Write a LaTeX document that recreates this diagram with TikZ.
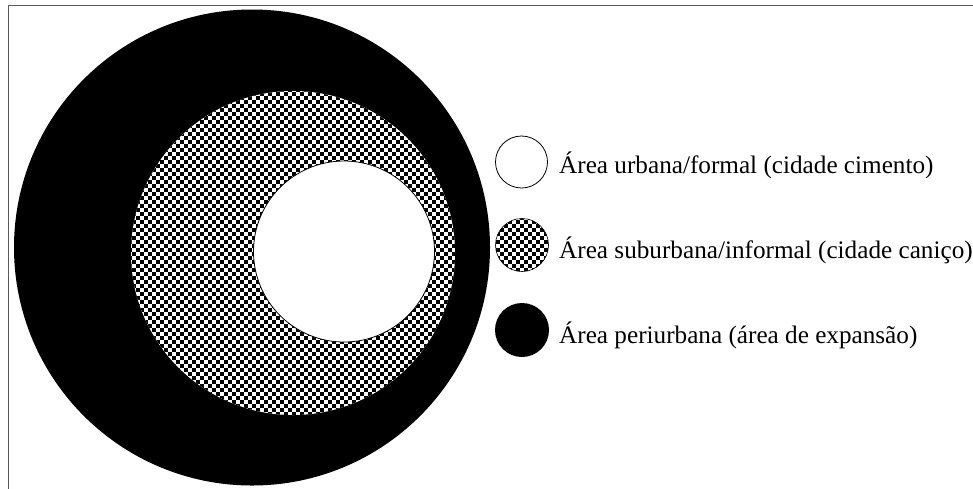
\documentclass[tikz,border=0pt]{standalone}
\usepackage{fontspec}
\setmainfont{Liberation Serif}

% checkerboard of 4pt squares on a fixed global grid, covering the
% square box round a disc of centre (#1,#2) and radius #3
\newcommand\checkerfill[3]{%
  \pgfmathtruncatemacro\cjA{floor((#2-#3)/4)-1}%
  \pgfmathtruncatemacro\cjB{ceil((#2+#3)/4)+1}%
  \pgfmathtruncatemacro\ciA{floor((#1-#3)/8)-1}%
  \pgfmathtruncatemacro\ciB{ceil((#1+#3)/8)+1}%
  \foreach \j in {\cjA,...,\cjB}{%
    \pgfmathtruncatemacro\coff{mod(\j,2)*4}%
    \foreach \i in {\ciA,...,\ciB}{%
      \fill[black] ({\i*8+\coff},{\j*4}) rectangle ++(4,4);
    }%
  }}

\begin{document}
\begin{tikzpicture}[x=1pt,y=-1pt,
  frameline/.style={draw=black!65, line width=1pt},
  zone/.style={circle, inner sep=0pt, outer sep=0pt},
  periurban/.style={zone, fill=black},
  suburban/.style={zone, fill=white},
  urban/.style={zone, fill=white, draw=black, line width=0.8pt},
  legendtext/.style={anchor=base west, inner sep=0pt, font=\fontsize{25.2}{30}\selectfont}
]
\useasboundingbox (0,0) rectangle (973,488);

% frame
\draw[frameline] (8,492) -- (8,5) -- (977,5);

% concentric zones
\node[periurban, minimum size=476pt] (peri) at (252,247.5) {};
\node[suburban, minimum size=324pt] (sub) at (293,253) {};
\begin{scope}
  \clip (sub.center) circle[radius=162];
  \checkerfill{293}{253}{162}
\end{scope}
\node[urban, minimum size=181pt] (urb) at (344,251.5) {};

% legend
\node[urban, minimum size=52pt] (kurb) at (521.5,162) {};
\node[suburban, minimum size=53pt] (ksub) at (522,245) {};
\begin{scope}
  \clip (ksub.center) circle[radius=26.5];
  \checkerfill{522}{245}{27}
\end{scope}
\draw[black, line width=0.6pt] (ksub.center) circle[radius=26.5];
\node[periurban, minimum size=54pt] (kperi) at (522,330) {};

\node[legendtext] (turb) at (559,173) {Área urbana/formal (cidade cimento)};
\node[legendtext] (tsub) at (559,258) {Área suburbana/informal (cidade caniço)};
\node[legendtext] (tperi) at (559,343) {Área periurbana (área de expansão)};
\end{tikzpicture}
\end{document}
